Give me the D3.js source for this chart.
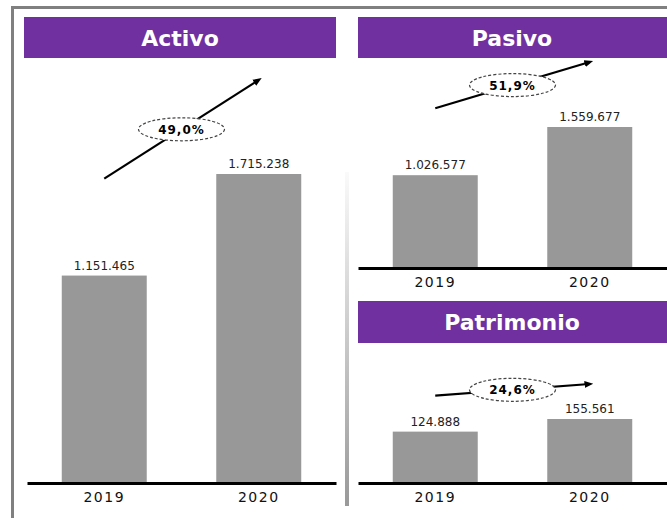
<!DOCTYPE html>
<html>
<head>
<meta charset="utf-8">
<script src="https://cdn.jsdelivr.net/npm/d3@7"></script>
<style>
  body { margin: 0; background: #fff; }
  svg { display: block; font-family: "DejaVu Sans", sans-serif; }
</style>
</head>
<body>
<div id="chart"></div>
<script>
// Balance figures by year
const years = ["2019", "2020"];
const activo = [1151465, 1715238];
const pasivo = [1026577, 1559677];
const patrimonio = [124888, 155561];
const growthLabels = ["49,0%", "51,9%", "24,6%"];

const fmt = d3.formatLocale({ decimal: ",", thousands: ".", grouping: [3], currency: ["", ""] }).format(",d");

const W = 667, H = 518;
const purple = "#7030A0";
const barColor = "#989898";

const svg = d3.select("#chart").append("svg")
    .attr("width", W)
    .attr("height", H);

// outer frame (cropped at right and bottom)
svg.append("rect")
    .attr("x", 12.5).attr("y", 7.5)
    .attr("width", 720).attr("height", 600)
    .attr("fill", "none")
    .attr("stroke", "#808080")
    .attr("stroke-width", 3);

// light vertical divider
const grad = svg.append("defs").append("linearGradient")
    .attr("id", "divGrad").attr("x1", 0).attr("y1", 0).attr("x2", 0).attr("y2", 1);
grad.append("stop").attr("offset", "0%").attr("stop-color", "#fafafa");
grad.append("stop").attr("offset", "100%").attr("stop-color", "#999");
svg.append("rect")
    .attr("x", 345).attr("y", 172)
    .attr("width", 4).attr("height", 334)
    .attr("fill", "url(#divGrad)");

// arrowhead
svg.select("defs").append("marker")
    .attr("id", "arrow")
    .attr("viewBox", "0 0 10 10")
    .attr("refX", 6).attr("refY", 5)
    .attr("markerWidth", 4).attr("markerHeight", 4)
    .attr("orient", "auto")
    .append("path")
    .attr("d", "M0,1 L10,5 L0,9 z")
    .attr("fill", "#000");

const panels = [
    { title: "Activo", values: activo, growth: growthLabels[0], axisX: 27, titleX: 180,
      x0: 24, x1: 336, headTop: 17, headH: 41, base: 483, plotH: 309, arrowOff: [97, 94] },
    { title: "Pasivo", values: pasivo, growth: growthLabels[1], axisX: 358, titleX: 512,
      x0: 358, x1: 670, headTop: 17, headH: 41, base: 268, plotH: 141, arrowOff: [67, 65] },
    { title: "Patrimonio", values: patrimonio, growth: growthLabels[2], axisX: 358, titleX: 512,
      x0: 358, x1: 670, headTop: 301, headH: 42, base: 483, plotH: 64, arrowOff: [36, 35] }
];

panels.forEach(p => {
    const g = svg.append("g");

    // header band
    g.append("rect")
        .attr("x", p.x0).attr("y", p.headTop)
        .attr("width", p.x1 - p.x0).attr("height", p.headH)
        .attr("fill", purple);
    g.append("text")
        .attr("x", p.titleX)
        .attr("y", p.headTop + p.headH / 2 + 8)
        .attr("text-anchor", "middle")
        .style("font-size", "22px")
        .style("font-weight", "bold")
        .style("fill", "#fff")
        .text(p.title);

    const data = years.map((y, i) => ({ year: y, value: p.values[i] }));

    const x = d3.scaleBand()
        .domain(years)
        .range([p.axisX, p.axisX + 309])
        .paddingInner(0.45)
        .paddingOuter(0.225);

    const y = d3.scaleLinear()
        .domain([0, d3.max(data, d => d.value)])
        .range([p.base, p.base - p.plotH]);

    // bars
    g.selectAll(".bar")
        .data(data)
        .enter().append("rect")
        .attr("class", "bar")
        .attr("x", d => x(d.year))
        .attr("y", d => y(d.value))
        .attr("width", x.bandwidth())
        .attr("height", d => p.base - y(d.value))
        .attr("fill", barColor);

    // value labels
    g.selectAll(".val")
        .data(data)
        .enter().append("text")
        .attr("x", d => x(d.year) + x.bandwidth() / 2)
        .attr("y", d => y(d.value) - 6)
        .attr("text-anchor", "middle")
        .style("font-size", "12px")
        .style("fill", "#222")
        .text(d => fmt(d.value));

    // axis
    const axis = g.append("g")
        .attr("transform", `translate(0,${p.base})`)
        .call(d3.axisBottom(x).tickSize(0).tickPadding(9));
    axis.select(".domain")
        .attr("stroke", "#000")
        .attr("stroke-width", 3);
    axis.selectAll("text")
        .style("font-family", "DejaVu Sans, sans-serif")
        .style("font-size", "14px")
        .style("letter-spacing", "1.5px")
        .style("fill", "#111");

    // growth arrow
    const ax1 = x(years[0]) + x.bandwidth() / 2;
    const ay1 = y(p.values[0]) - p.arrowOff[0];
    const ax2 = x(years[1]) + x.bandwidth() / 2;
    const ay2 = y(p.values[1]) - p.arrowOff[1];
    g.append("line")
        .attr("x1", ax1).attr("y1", ay1)
        .attr("x2", ax2).attr("y2", ay2)
        .attr("stroke", "#000")
        .attr("stroke-width", 2.2)
        .attr("marker-end", "url(#arrow)");

    const mx = (ax1 + ax2) / 2, my = (ay1 + ay2) / 2;
    g.append("ellipse")
        .attr("cx", mx).attr("cy", my)
        .attr("rx", 43).attr("ry", 11.5)
        .attr("fill", "#fff")
        .attr("stroke", "#444")
        .attr("stroke-width", 1.2)
        .attr("stroke-dasharray", "3,2");
    g.append("text")
        .attr("x", mx).attr("y", my + 4.5)
        .attr("text-anchor", "middle")
        .style("font-size", "12px")
        .style("font-weight", "bold")
        .style("letter-spacing", "1px")
        .style("fill", "#000")
        .text(p.growth);
});
</script>
</body>
</html>
